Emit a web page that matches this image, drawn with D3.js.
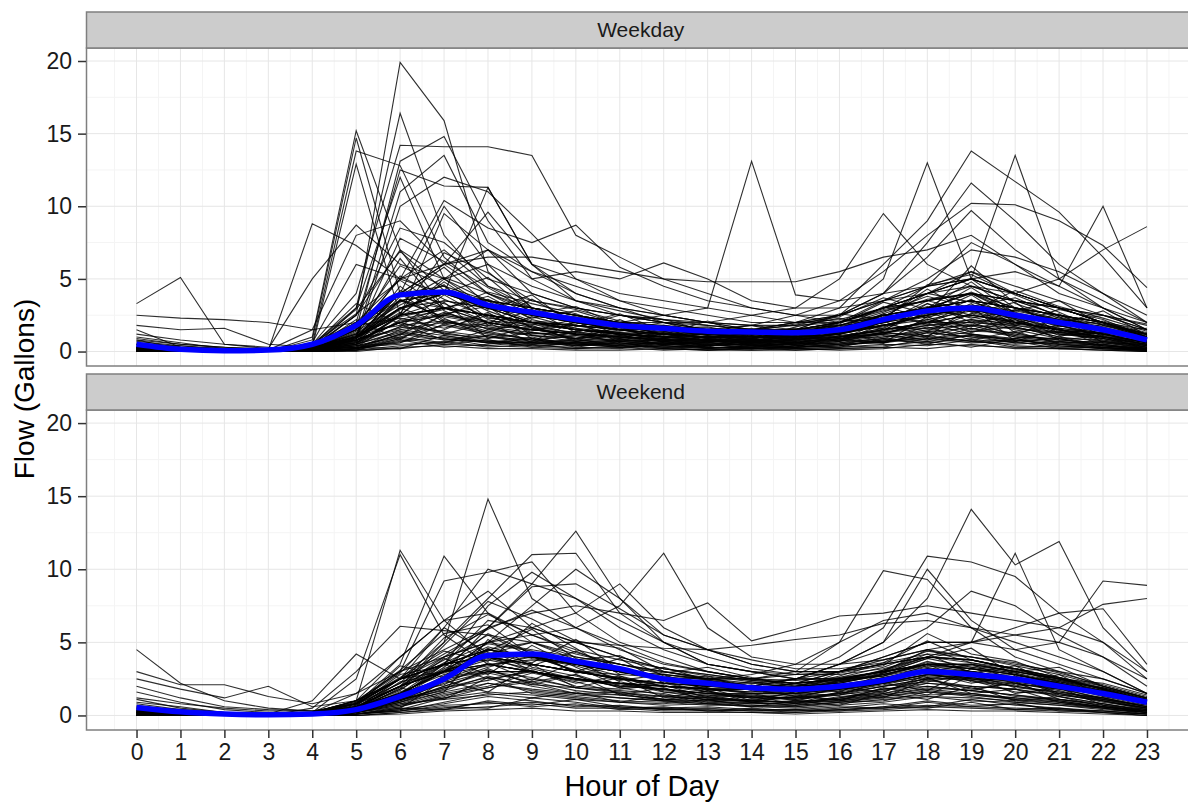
<!DOCTYPE html>
<html><head><meta charset="utf-8">
<script src="https://cdn.jsdelivr.net/npm/d3@7"></script>
<style>body{margin:0;background:#fff}svg{display:block}text{font-family:"Liberation Sans",Arial,sans-serif}</style>
</head><body><svg id="c" width="1188" height="802"></svg>
<script>
const hours = d3.range(0, 24);
const xTicks = d3.range(0, 24);
const yTicks = [0, 5, 10, 15, 20];
const panelNames = ["Weekday", "Weekend"];

const weekdayMean = [0.5,0.15,0.05,0.1,0.5,1.8,3.9,4.1,3.2,2.7,2.2,1.8,1.6,1.4,1.35,1.3,1.5,2.2,2.8,3.0,2.5,2.0,1.5,0.8];
const weekendMean = [0.55,0.25,0.1,0.05,0.1,0.4,1.3,2.5,4.1,4.2,3.7,3.2,2.5,2.2,1.9,1.8,2.0,2.4,3.0,2.8,2.5,2.0,1.5,0.9];

const weekdayLines = [
[0.2,0.1,0,0,0.3,2.5,19.9,15.9,5.5,3.0,2.0,1.5,1.2,1.0,0.8,0.9,1.5,2.5,3.0,2.8,2.0,1.5,1.0,0.5],
[0.1,0,0,0,0.2,3.0,16.4,8.0,4.5,3.0,2.5,1.8,1.2,0.9,1.0,1.2,1.8,2.0,3.5,4.0,2.5,1.5,0.9,0.3],
[0.5,0.2,0.1,0,0.5,4.0,14.2,14.1,14.1,13.5,8.0,6.5,5.0,4.0,3.0,2.5,2.0,3.0,4.0,5.5,4.0,3.0,2.0,1.0],
[0.3,0.1,0,0,1.0,15.2,7.0,5.0,3.5,2.5,2.0,1.5,1.2,1.0,1.0,1.0,1.5,2.0,3.0,3.5,3.0,2.0,1.5,0.8],
[0.1,0,0,0,0.8,14.7,4.0,10.0,6.0,3.0,2.5,2.0,1.5,1.2,1.0,1.0,1.2,2.5,2.0,3.0,2.5,1.8,1.0,0.5],
[0.2,0.1,0,0,0.5,13.8,12.8,6.5,4.0,2.5,2.0,1.5,1.0,0.8,0.7,0.9,1.5,1.8,2.5,3.0,2.0,1.5,1.2,0.6],
[0.1,0,0,0,0.3,12.9,2.5,3.0,2.5,2.0,1.5,1.2,1.0,0.8,0.6,0.8,1.0,1.5,2.0,2.5,2.0,1.5,1.0,0.4],
[0.2,0.1,0,0.1,8.8,7.3,5.0,4.0,3.0,2.0,1.8,1.5,1.2,1.0,1.0,1.0,1.2,2.0,2.5,3.0,2.5,2.0,1.5,0.8],
[3.3,5.1,0.5,0.2,0.3,2.0,4.0,3.0,2.5,2.0,1.5,1.2,1.0,0.8,0.8,1.0,1.0,1.5,2.0,2.5,2.0,1.5,1.0,0.5],
[0.2,0.1,0,0,0.1,1.5,13.1,14.8,9.0,5.0,3.5,2.5,2.0,1.5,1.2,1.0,1.5,2.0,2.5,3.0,2.5,2.0,1.5,0.8],
[0.1,0,0,0,0.2,2.0,12.5,11.4,11.3,6.0,4.0,3.0,2.0,1.5,1.0,1.0,1.5,2.0,3.0,3.5,3.0,2.0,1.5,1.0],
[0.3,0.1,0,0,0.5,3.0,12.0,5.0,3.0,2.0,1.5,1.2,1.0,0.8,0.7,0.8,1.2,1.8,2.2,2.8,2.5,1.8,1.2,0.6],
[0.2,0.1,0,0,0.2,1.0,11.0,13.5,7.5,5.5,4.0,3.0,2.5,2.0,1.5,1.5,1.8,2.5,3.0,4.0,3.0,2.5,1.8,1.0],
[0.1,0,0,0,0.1,0.8,10.0,12.0,11.0,8.1,5.0,3.5,2.5,2.0,1.8,1.5,2.0,3.0,3.5,4.5,3.5,2.5,1.5,0.8],
[0.5,0.3,0.2,0.1,1.5,8.0,9.0,6.0,4.0,3.0,2.5,2.0,1.5,1.2,1.0,1.0,1.5,2.0,3.0,3.5,3.0,2.5,2.0,1.2],
[0.8,0.5,0.3,0.2,5.0,8.7,6.0,5.0,7.0,4.0,3.0,2.5,2.0,1.5,1.2,1.2,1.5,2.5,3.0,4.0,3.5,2.5,2.0,1.5],
[0.2,0.1,0,0,0.1,1.0,3.0,4.0,11.3,6.0,3.5,3.0,2.5,2.0,1.5,1.5,2.0,3.0,4.0,5.0,4.0,3.0,2.0,1.0],
[0.1,0,0,0,0.2,1.5,5.0,10.4,8.5,7.5,8.7,5.8,4.5,3.5,3.0,2.5,2.5,3.5,4.5,5.5,4.5,3.5,2.5,1.5],
[0.2,0.1,0,0,0.2,1.0,3.0,4.0,3.0,2.5,2.0,2.0,2.5,3.0,13.1,3.9,3.5,4.0,4.5,5.0,4.0,3.0,2.5,1.5],
[0.3,0.2,0.1,0.1,0.5,2.0,5.0,6.0,7.0,5.0,5.5,5.0,6.1,5.0,3.5,3.0,3.0,3.5,4.0,4.5,4.0,3.0,2.0,1.0],
[0.2,0.1,0,0,0.3,1.5,4.0,6.0,6.5,6.5,6.0,5.5,5.0,4.8,4.8,4.8,5.5,6.5,7.0,8.0,6.0,4.0,3.0,2.0],
[0.1,0,0,0,0.2,1.0,3.5,4.0,3.0,2.0,1.5,1.2,1.0,1.0,1.2,1.5,2.5,5.0,13.0,5.0,3.0,2.5,2.0,1.0],
[0.2,0.1,0,0,0.3,1.2,3.0,3.5,3.0,2.5,2.0,1.8,1.5,1.5,1.5,2.0,3.0,6.0,9.0,13.8,11.7,9.6,6.5,3.0],
[0.1,0,0,0,0.2,1.0,2.5,3.0,2.5,2.0,1.5,1.2,1.0,1.0,1.0,1.2,2.0,3.0,4.0,5.0,13.5,5.0,3.0,1.5],
[0.1,0,0,0,0.2,1.0,3.0,4.0,3.5,3.0,2.5,2.0,1.5,1.5,1.5,2.0,2.5,4.0,7.5,11.6,9.0,6.0,4.0,2.0],
[0.2,0.1,0,0,0.3,1.5,4.0,4.5,3.5,3.0,2.5,2.0,2.0,2.0,2.5,3.0,5.0,9.5,6.0,4.5,3.5,3.0,2.0,1.2],
[0.2,0.1,0,0,0.2,1.0,2.5,3.0,2.5,2.0,1.8,1.5,1.5,1.5,1.8,2.5,3.5,5.5,8.0,10.2,10.1,9.0,7.3,4.4],
[0.1,0,0,0,0.2,0.8,2.0,2.5,2.0,1.5,1.2,1.0,1.0,1.0,1.2,1.5,2.0,3.0,4.0,5.0,5.5,4.5,10.0,3.0],
[0.3,0.2,0.1,0.1,0.3,1.0,2.5,3.0,2.5,2.0,1.8,1.5,1.5,1.5,1.5,2.0,2.5,3.5,4.5,5.0,4.0,5.0,7.0,8.6],
[0.2,0.1,0,0,0.2,1.2,3.5,4.0,3.5,3.0,2.5,2.0,1.8,1.5,1.5,1.8,2.5,4.0,6.5,9.7,7.0,5.0,3.5,2.0],
[0.1,0,0,0,0.1,0.8,2.0,3.0,2.5,2.0,1.8,1.5,1.2,1.2,1.2,1.5,2.0,3.0,4.5,7.5,6.0,4.5,3.0,1.5],
[0.2,0.1,0,0,0.2,1.0,2.5,3.5,3.0,2.5,2.0,1.8,1.5,1.2,1.2,1.5,2.0,3.5,5.0,7.0,6.5,5.5,4.0,2.5],
[2.5,2.3,2.2,2.0,1.5,2.0,3.5,3.0,2.0,1.5,1.2,1.0,0.8,0.8,0.8,1.0,1.2,1.8,2.5,3.0,2.5,2.0,1.5,1.2],
[1.8,1.5,1.6,0.5,0.3,1.0,2.0,2.5,2.0,1.5,1.2,1.0,0.8,0.7,0.7,0.8,1.0,1.5,2.0,2.0,1.8,1.5,1.2,0.8],
[1.2,0.8,0.5,0.3,0.2,0.8,1.5,2.0,1.8,1.5,1.2,1.0,0.9,0.8,0.8,0.9,1.0,1.3,1.6,1.8,1.6,1.3,1.0,0.6],
[0.1,0,0,0,0.2,1.0,4.0,6.0,9.6,6.0,5.0,4.0,3.5,3.0,2.5,2.0,2.0,2.5,3.0,3.5,3.0,2.5,2.0,1.0],
[0.3,0.1,0,0,0.3,2.5,8.5,7.5,5.0,4.0,3.0,2.5,2.0,1.8,1.5,1.5,1.8,2.5,3.0,3.5,3.0,2.5,2.0,1.2],
[0.2,0.1,0,0,0.6,6.0,5.0,7.0,4.5,3.5,3.0,2.5,2.2,2.0,1.8,1.8,2.0,2.8,3.5,4.0,3.5,3.0,2.5,1.8],
[0.1,0,0,0,0.1,0.5,2.5,9.5,7.0,5.5,4.5,3.5,3.0,2.5,2.0,2.0,2.2,3.0,3.5,4.0,3.5,3.0,2.0,1.2],
[0.2,0.1,0,0,0.2,2.5,7.0,3.0,2.0,1.5,1.2,1.0,0.8,0.7,0.6,0.7,0.9,1.3,1.8,2.2,1.9,1.5,1.0,0.5],
[0.1,0,0,0,0.1,0.6,2.5,5.0,6.0,4.5,3.5,2.8,2.2,1.8,1.5,1.4,1.6,2.2,2.8,3.2,2.8,2.2,1.6,0.9]
];

const weekdayLowLines = [
[0.3,0,0,0,0.1,0.9,2.7,1.2,2.0,0.6,1.4,0.5,0.9,0.3,1.1,0.4,0.8,2.1,1.0,3.1,0.7,1.6,0.4,0.2],
[0,0,0,0,0,0.4,1.1,3.4,0.9,1.8,0.7,1.2,0.4,0.8,0.3,0.9,1.5,0.6,2.4,1.3,2.2,0.8,1.1,0.1],
[0.8,0.2,0,0,0.2,2.2,0.8,2.6,3.1,1.1,0.9,1.7,0.6,0.5,0.7,0.3,1.1,1.4,3.3,2.0,1.1,2.4,0.6,0.5],
[0.1,0,0,0.1,0.3,0.6,4.5,2.1,1.3,2.4,1.6,0.8,1.3,0.9,0.6,1.2,0.7,1.9,1.4,2.6,3.4,1.2,0.9,0.3],
[0,0,0,0,0,0.2,0.6,1.5,2.7,0.9,0.5,0.4,0.7,0.2,0.4,0.3,0.5,0.9,1.7,0.8,1.4,0.5,0.3,0],
[1.5,0.3,0.1,0,0.1,1.4,3.2,4.6,1.8,2.9,1.3,2.2,1.0,1.4,0.8,1.7,2.3,1.5,2.7,4.4,2.5,1.9,2.8,1.1],
[0.2,0.1,0,0,0.4,3.3,1.9,0.8,1.1,0.7,2.1,0.6,0.5,1.1,0.4,0.6,1.3,2.6,1.9,1.2,0.9,1.4,0.7,0.4],
[0,0,0,0,0.1,0.3,2.2,2.9,4.1,3.3,2.6,1.5,2.0,1.2,1.6,1.0,1.8,2.7,3.8,3.0,2.2,1.3,1.6,0.7],
[0.5,0.4,0.2,0.1,0.2,1.1,5.2,3.6,2.4,1.6,0.9,1.3,0.8,0.6,0.9,0.5,0.9,1.2,2.2,1.7,2.9,2.1,1.2,0.6],
[0,0,0,0,0,0.5,1.4,0.9,0.6,1.0,0.4,0.6,0.3,0.5,0.2,0.4,0.6,1.1,0.8,1.6,1.0,0.7,0.5,0.1],
[0.3,0.1,0,0,0.2,0.7,3.8,5.8,3.2,2.1,1.9,2.6,1.4,1.1,1.3,0.8,1.5,3.1,2.3,3.6,1.8,2.6,1.0,0.8],
[0.2,0,0,0,0.3,1.8,2.3,1.6,2.5,1.3,1.1,0.9,1.6,0.7,0.9,1.3,1.0,1.6,2.9,2.4,1.7,1.0,1.9,0.9],
[1.0,0.6,0.2,0,0.1,0.9,2.9,4.0,5.1,2.6,3.1,1.8,1.2,2.1,1.0,1.5,2.6,2.2,4.6,5.3,3.9,2.7,1.4,1.6],
[0.1,0,0,0,0.2,1.2,6.4,2.8,1.5,1.9,1.2,1.0,0.8,0.6,1.2,0.7,1.4,1.8,2.5,3.9,2.0,1.5,0.8,0.3],
[0,0,0,0,0,0.1,0.9,2.2,1.4,0.8,1.1,0.7,0.9,0.4,0.6,0.5,0.7,1.3,1.1,2.1,1.5,0.9,0.4,0.2],
[0.4,0.2,0,0,0.5,2.6,4.9,3.0,3.8,2.2,1.5,1.4,1.8,1.3,0.8,1.0,2.0,2.9,3.5,2.8,4.2,3.1,2.3,1.4],
[0.2,0.1,0,0,0.1,0.5,1.7,3.9,2.2,1.4,2.3,1.1,0.7,0.9,0.5,0.8,1.1,1.4,2.0,3.3,1.3,1.8,1.1,0.6],
[0.6,0.3,0.1,0,0.3,1.6,3.5,2.4,1.9,3.6,2.0,1.6,1.1,1.5,1.3,1.6,1.2,2.4,4.0,3.4,2.6,2.0,2.5,1.9],
[0,0,0,0,0.1,0.8,2.0,1.3,0.8,0.5,0.7,0.4,0.6,0.3,0.3,0.5,0.8,0.6,1.3,1.0,0.9,0.6,0.4,0.1],
[0.3,0.1,0,0,0.2,1.0,7.8,6.2,4.4,2.7,2.4,2.0,1.6,1.7,1.1,1.3,1.9,3.4,2.6,5.9,3.3,2.3,1.7,0.9],
[0.1,0,0,0,0.1,0.4,2.5,4.8,2.9,3.9,1.7,2.5,2.2,1.4,1.8,1.1,2.1,2.2,3.1,2.3,2.8,3.5,1.8,1.2],
[0.7,0.4,0.1,0,0.2,1.3,1.8,2.1,1.6,1.2,1.4,0.9,0.7,1.0,0.8,0.6,1.0,1.6,1.6,2.2,1.6,1.2,0.9,0.5],
[0,0,0,0,0.1,0.7,3.0,1.9,2.6,1.7,0.8,1.5,1.0,0.8,1.4,0.9,1.2,2.0,2.8,1.5,2.3,1.1,1.3,0.4],
[0.2,0.1,0,0,0.1,0.9,4.2,3.3,2.0,1.5,1.8,1.2,0.9,1.3,0.7,1.1,1.6,2.5,3.0,4.8,2.6,1.7,2.1,1.3],
[0,0,0,0,0,0.2,1.0,1.8,1.2,0.9,0.6,0.8,0.5,0.4,0.5,0.3,0.4,0.8,1.4,1.2,0.7,0.9,0.3,0.1],
[0.4,0.2,0,0,0.4,2.9,6.9,4.2,2.8,1.7,1.3,1.1,1.4,0.9,1.1,0.8,1.3,1.7,2.6,3.1,3.7,2.4,1.5,0.7],
[0.1,0,0,0,0.1,0.6,2.4,3.0,3.6,2.3,2.8,1.9,1.5,1.1,0.9,1.4,1.7,2.3,4.3,2.7,1.9,2.9,2.2,1.0],
[0.9,0.5,0.3,0.1,0.2,0.8,1.6,2.7,1.7,1.3,1.0,0.8,1.2,0.7,0.6,0.9,0.8,1.3,1.8,2.0,2.4,1.4,1.0,0.7],
[0,0,0,0,0.1,0.5,3.6,2.3,1.0,0.8,0.6,0.7,0.5,0.6,0.4,0.6,0.9,1.0,1.5,1.9,1.2,0.8,0.6,0.2],
[0.2,0.1,0,0,0.2,1.1,2.6,6.8,5.4,3.5,2.9,2.1,1.7,1.6,1.4,1.9,2.4,3.7,2.9,4.1,3.0,2.2,1.9,1.1],
[0.1,0,0,0,0.1,0.3,1.2,2.5,3.5,1.6,1.2,1.0,0.9,0.7,0.8,0.6,1.0,1.2,2.1,1.4,1.7,1.0,0.7,0.3],
[0.5,0.2,0.1,0,0.3,1.7,5.9,4.5,2.3,2.0,1.6,1.3,1.0,1.2,0.9,1.0,1.4,2.0,3.3,2.5,2.1,1.6,1.3,0.8],
[0,0,0,0,0,0.2,1.5,1.1,0.7,0.6,0.5,0.3,0.4,0.3,0.2,0.3,0.5,0.7,0.9,1.1,0.8,0.5,0.3,0.1],
[0.3,0.1,0,0,0.2,0.9,3.4,5.1,4.0,2.8,2.0,1.7,1.3,1.0,1.2,1.1,1.5,2.6,3.6,4.0,2.7,2.0,1.5,0.9],
[0.1,0,0,0,0.2,1.0,4.0,2.0,1.6,1.1,0.9,1.1,0.7,0.5,0.6,0.7,0.9,1.5,1.9,2.6,1.8,1.3,0.9,0.4],
[0.2,0.1,0,0,0.1,0.6,2.1,2.6,2.1,1.9,1.5,1.3,1.2,1.0,0.9,1.2,1.3,1.8,2.4,2.9,2.3,1.6,1.2,0.6]
];

const weekdayNearZeroLines = [
[0,0,0,0,0,0.1,0.4,0.7,0.3,0.5,0.2,0.3,0.1,0.2,0.1,0.2,0.3,0.5,0.4,0.8,0.3,0.4,0.2,0],
[0.1,0,0,0,0,0.2,0.9,0.5,0.8,0.3,0.6,0.4,0.3,0.1,0.3,0.1,0.2,0.3,0.9,0.6,0.7,0.2,0.3,0.1],
[0,0,0,0,0.1,0.3,0.2,1.1,0.6,0.4,0.3,0.2,0.5,0.3,0.2,0.4,0.6,0.9,0.5,1.2,0.8,0.5,0.2,0.1],
[0.2,0.1,0,0,0,0.5,1.3,0.9,0.4,0.7,0.5,0.6,0.2,0.4,0.5,0.3,0.4,0.7,1.1,0.7,0.5,0.7,0.4,0.2],
[0,0,0,0,0,0,0.3,0.4,0.2,0.2,0.1,0.1,0.2,0.1,0.1,0.1,0.2,0.3,0.2,0.5,0.2,0.2,0.1,0],
[0.1,0,0,0,0.1,0.6,1.7,1.4,1.0,0.6,0.8,0.5,0.7,0.5,0.3,0.6,0.5,1.0,1.4,1.6,1.1,0.8,0.6,0.3],
[0,0,0,0,0,0.1,0.8,0.3,0.5,0.9,0.3,0.7,0.4,0.2,0.4,0.2,0.3,0.4,0.7,0.3,0.9,0.3,0.5,0.1],
[0.3,0.1,0,0,0,0.4,0.6,1.9,1.3,0.8,0.4,0.8,0.6,0.6,0.4,0.5,0.9,0.6,1.3,1.0,0.6,1.0,0.4,0.2],
[0,0,0,0,0,0.2,1.2,0.8,0.7,0.4,0.6,0.3,0.4,0.3,0.2,0.3,0.4,0.8,0.6,0.9,0.4,0.3,0.3,0.1],
[0.1,0,0,0,0.1,0.3,0.5,0.6,1.5,1.1,0.7,0.9,0.5,0.7,0.6,0.4,0.7,1.2,0.8,1.4,1.3,0.6,0.7,0.2],
[0,0,0,0,0,0.1,0.2,0.5,0.4,0.3,0.2,0.4,0.2,0.1,0.2,0.2,0.1,0.2,0.5,0.4,0.3,0.2,0.1,0],
[0.2,0,0,0,0.1,0.8,2.0,1.2,0.9,1.3,0.9,0.7,0.8,0.4,0.7,0.6,0.8,1.3,1.0,1.8,1.0,0.9,0.8,0.4],
[0,0,0,0,0,0.2,0.7,1.0,0.6,0.6,0.4,0.5,0.3,0.3,0.3,0.3,0.5,0.6,1.0,0.7,0.8,0.4,0.2,0.1],
[0.1,0,0,0,0,0.4,1.0,0.6,1.1,0.5,0.9,0.3,0.6,0.4,0.5,0.5,0.3,0.9,0.7,1.1,0.6,0.5,0.5,0.2]
];

const weekendLines = [
[4.5,2.2,1.0,0.5,0.3,0.8,2.0,3.0,4.0,3.5,3.0,2.5,2.0,1.8,1.5,1.5,1.8,2.2,2.8,2.5,2.2,1.8,1.2,0.6],
[2.5,1.8,1.2,2.0,0.6,1.0,2.5,3.5,4.5,4.0,3.5,3.0,2.5,2.0,1.8,1.8,2.0,2.5,3.0,3.0,2.5,2.0,1.5,0.9],
[3.0,2.1,2.1,1.3,0.8,1.5,3.0,4.0,5.0,4.5,4.0,3.5,3.0,2.5,2.2,2.0,2.2,2.8,3.5,3.2,2.8,2.2,1.6,1.0],
[0.2,0.1,0,0,0.1,1.0,11.3,6.5,4.0,3.0,2.5,2.0,1.8,1.5,1.2,1.2,1.5,2.0,2.5,2.5,2.0,1.5,1.2,0.6],
[0.3,0.1,0,0,0.2,2.5,11.0,5.5,3.5,3.0,2.5,2.0,1.8,1.5,1.5,1.5,1.8,2.2,2.8,3.0,2.5,2.0,1.5,0.8],
[0.3,0.2,0.1,0,0.5,3.0,6.1,5.8,5.5,4.0,3.5,3.0,2.5,2.0,1.8,1.7,2.0,2.5,3.0,3.0,2.5,2.0,1.5,0.8],
[0.5,0.3,0.2,0.1,1.0,4.2,2.5,3.0,3.5,3.0,2.5,2.2,2.0,1.8,1.6,1.6,1.8,2.2,2.8,2.8,2.5,2.0,1.5,0.9],
[0.2,0.1,0,0,0.1,0.8,3.5,10.9,7.0,5.0,4.0,3.5,3.0,2.5,2.0,2.0,2.2,2.8,3.5,3.2,2.8,2.2,1.6,1.0],
[0.1,0,0,0,0.1,0.5,2.0,5.0,14.8,8.0,6.0,4.5,3.5,3.0,2.5,2.2,2.5,3.0,3.5,3.2,2.8,2.2,1.6,0.9],
[0.2,0.1,0,0,0.2,1.0,3.0,9.2,9.8,10.5,7.0,5.0,4.0,3.0,2.5,2.2,2.5,3.0,3.5,3.5,3.0,2.5,1.8,1.0],
[0.1,0,0,0,0.1,0.5,1.5,3.0,6.0,9.0,12.6,8.0,5.0,3.5,3.0,2.5,2.5,3.0,3.5,3.5,3.0,2.5,1.8,1.0],
[0.2,0.1,0,0,0.1,0.8,2.5,5.0,8.0,11.0,11.1,7.0,5.0,3.5,3.0,2.8,2.8,3.2,4.0,3.8,3.2,2.5,1.8,1.0],
[0.3,0.1,0,0,0.2,1.0,2.5,4.0,5.0,5.5,6.0,7.5,11.1,6.0,4.0,3.5,3.5,3.8,4.5,4.0,3.5,3.0,2.0,1.2],
[0.2,0.1,0,0,0.2,1.0,3.0,4.5,6.0,7.0,7.5,7.0,6.5,7.7,5.1,5.9,6.8,7.0,7.5,7.0,6.5,6.0,5.0,3.0],
[0.1,0,0,0,0.1,0.5,2.5,6.0,10.0,9.0,8.0,6.0,4.5,3.5,3.0,2.5,2.5,3.0,3.5,3.5,3.0,2.5,1.8,1.0],
[0.2,0.1,0,0,0.2,1.0,4.0,6.5,8.5,6.0,5.0,4.0,3.2,2.8,2.4,2.2,2.4,2.8,3.4,3.2,2.8,2.2,1.6,0.9],
[0.2,0.1,0,0,0.1,0.6,2.0,3.5,4.5,4.0,3.5,3.0,2.8,2.5,2.5,3.0,5.0,9.9,9.3,6.0,4.0,3.0,2.5,1.5],
[0.2,0.1,0,0,0.2,0.8,2.5,3.5,4.0,4.0,3.5,3.0,2.8,2.5,2.5,2.8,4.0,6.0,10.9,10.5,9.5,7.0,5.0,2.5],
[0.1,0,0,0,0.1,0.6,2.0,3.0,4.0,3.5,3.0,2.5,2.2,2.0,2.0,2.5,3.5,5.0,10.0,6.5,4.5,3.5,2.5,1.5],
[0.2,0.1,0,0,0.2,0.8,2.5,3.5,4.0,3.5,3.0,2.5,2.2,2.0,2.0,2.5,3.5,5.0,8.0,14.1,10.3,11.9,6.0,3.0],
[0.1,0,0,0,0.1,0.5,2.0,3.0,3.5,3.0,2.5,2.2,2.0,1.8,1.8,2.2,3.0,4.0,5.0,5.0,11.1,4.5,3.0,1.5],
[0.3,0.1,0,0,0.2,0.8,2.5,3.5,4.0,3.5,3.0,2.5,2.2,2.0,2.0,2.5,3.0,4.0,5.0,5.0,4.5,5.0,9.2,8.9],
[0.2,0.1,0,0,0.1,0.6,2.0,3.0,3.5,3.0,2.5,2.2,2.0,1.8,1.8,2.2,3.0,3.8,4.5,5.0,5.5,6.0,7.6,8.0],
[0.2,0.1,0,0,0.2,0.8,2.5,3.5,4.5,4.0,3.5,3.0,2.5,2.2,2.2,2.5,3.5,4.5,6.0,8.5,7.5,5.5,4.0,2.0],
[0.1,0,0,0,0.1,0.5,1.5,3.5,7.5,9.8,8.0,6.5,5.0,4.0,3.2,2.8,3.0,3.5,4.0,3.8,3.2,2.6,1.8,1.0],
[0.2,0.1,0,0,0.1,0.6,2.0,4.0,6.0,8.8,9.0,7.3,5.5,4.5,3.5,3.0,3.0,3.5,4.0,3.8,3.2,2.6,2.0,1.2],
[0.2,0.1,0,0,0.2,0.8,2.5,3.5,4.0,3.5,3.0,2.8,2.6,2.5,2.8,3.5,5.0,6.5,7.0,6.0,5.0,4.0,3.0,1.5],
[0.1,0,0,0,0.1,0.5,1.5,2.5,3.0,3.0,2.5,2.2,2.0,1.8,1.8,2.0,2.5,3.0,4.0,5.0,6.0,7.0,7.3,3.5],
[0.3,0.2,0.1,0,0.1,0.5,1.8,3.5,6.5,6.0,5.0,4.0,3.2,2.7,2.3,2.1,2.3,2.8,3.5,3.3,2.9,2.3,1.7,1.0],
[0.2,0.1,0,0,0.1,0.5,1.5,3.0,5.0,6.0,7.0,9.0,6.0,4.5,3.5,3.0,3.0,3.5,4.0,3.8,3.2,2.6,1.9,1.1],
[0.2,0.1,0,0,0.1,0.4,1.5,3.0,5.0,7.5,10.0,8.0,5.5,4.5,3.8,3.2,3.2,3.6,4.2,4.0,3.4,2.8,2.0,1.2],
[0.3,0.2,0.1,0,0.1,0.5,1.5,3.0,4.5,5.0,5.0,4.8,4.6,4.5,4.8,5.2,5.5,6.3,6.5,6.0,5.5,5.0,4.0,2.5],
[0.3,0.1,0,0,0.2,1.5,4.0,6.5,7.0,5.5,4.5,3.8,3.2,2.8,2.4,2.2,2.4,2.9,3.6,3.4,3.0,2.4,1.7,1.0]
];

const weekendLowLines = [
[0.4,0.1,0,0,0,0.2,0.9,1.8,3.2,2.1,2.8,1.4,1.9,1.0,1.3,0.8,1.6,1.2,2.5,1.8,2.2,1.3,0.8,0.3],
[0,0,0,0,0,0.1,0.5,2.4,1.6,3.5,1.9,2.6,1.2,1.7,0.9,1.4,1.0,1.9,1.4,2.7,1.5,1.9,0.7,0.2],
[1.1,0.5,0.2,0.1,0.1,0.6,1.4,3.3,5.6,4.2,3.0,3.9,2.2,1.6,2.1,1.5,2.4,3.1,4.2,2.9,3.4,2.0,1.5,0.8],
[0.2,0.1,0,0,0.1,0.3,1.9,1.1,2.6,1.5,1.2,0.9,1.4,0.8,0.6,1.0,0.7,1.5,1.1,2.0,1.0,1.3,0.6,0.3],
[0,0,0,0,0,0.2,0.7,1.5,2.0,2.9,2.3,1.5,1.0,1.3,0.9,0.7,1.2,1.6,2.6,1.5,1.8,0.9,0.5,0.1],
[0.6,0.3,0.1,0,0.2,0.9,2.6,4.4,3.7,6.3,4.6,2.8,3.3,2.4,1.8,2.2,1.6,2.9,3.9,4.6,2.7,2.4,1.9,1.2],
[0.1,0,0,0,0.1,0.4,1.2,2.7,4.6,3.0,2.2,2.7,1.6,1.2,1.4,1.1,1.5,2.2,1.7,3.2,2.6,1.4,1.1,0.6],
[0.3,0.2,0,0,0,0.5,1.7,3.9,2.8,4.8,3.3,2.0,2.6,1.9,1.0,1.6,2.3,2.7,3.5,2.3,2.0,2.8,1.3,0.9],
[0,0,0,0,0,0.1,0.3,0.9,1.5,1.2,1.6,0.9,0.8,1.1,0.6,0.7,0.9,1.0,1.6,1.3,0.9,0.7,0.5,0.2],
[0.8,0.4,0.1,0,0.1,0.7,2.2,5.3,6.9,5.5,4.3,3.5,2.9,3.3,2.6,2.0,2.7,3.6,5.1,3.8,3.1,2.5,2.2,1.4],
[0.2,0.1,0,0,0.1,0.4,1.5,2.1,3.6,2.4,3.7,2.3,1.7,1.5,1.3,1.2,1.9,1.6,2.8,2.4,1.6,1.5,0.9,0.5],
[0,0,0,0,0,0.2,1.0,1.9,2.4,3.1,2.0,1.8,2.1,1.2,1.0,0.9,1.2,1.8,2.0,1.7,2.3,1.1,0.8,0.3],
[1.6,0.9,0.4,0.2,0.1,0.5,1.3,3.0,4.2,5.0,3.8,4.1,2.7,2.2,1.9,1.7,2.1,2.5,3.4,3.0,2.6,2.3,1.6,1.1],
[0.3,0.1,0,0,0.1,0.6,3.4,2.6,3.1,2.2,1.5,1.6,1.1,1.4,0.9,1.3,1.5,2.0,2.3,2.8,1.9,1.6,1.2,0.6],
[0,0,0,0,0,0.2,0.8,1.6,5.2,3.3,2.7,1.9,2.3,1.6,1.2,1.1,1.4,2.4,2.9,2.2,2.7,1.5,1.0,0.4],
[0.5,0.2,0.1,0,0.1,0.9,2.9,6.0,4.3,3.6,5.2,3.1,2.4,2.0,2.3,1.8,2.6,3.0,4.5,3.6,3.0,3.3,2.0,1.2],
[0.1,0,0,0,0,0.3,1.1,2.2,3.0,2.6,1.9,1.7,1.5,0.9,1.1,0.8,1.3,1.5,2.2,1.9,1.3,1.1,0.7,0.3],
[0.2,0.1,0,0,0.1,0.5,1.8,4.8,7.8,6.6,5.1,4.6,3.0,2.6,2.0,1.9,2.9,3.4,5.6,4.2,3.7,2.6,1.8,1.0],
[0,0,0,0,0,0.1,0.6,1.3,2.2,1.7,1.4,1.2,1.0,0.8,0.7,0.6,0.9,1.2,1.4,1.5,1.1,0.8,0.6,0.2],
[0.9,0.6,0.2,0.1,0.1,0.6,2.0,3.6,4.9,4.4,2.9,3.3,2.5,1.8,1.6,2.0,2.2,2.9,3.9,3.3,2.9,2.1,1.7,1.0],
[0.1,0,0,0,0.1,0.4,2.3,2.9,3.8,3.2,2.5,2.1,1.8,1.3,1.5,1.0,1.6,2.1,2.7,2.6,2.1,1.9,1.1,0.7],
[0.3,0.1,0,0,0,0.3,1.4,3.2,4.4,5.9,3.9,3.0,2.4,2.7,1.7,1.5,1.9,2.6,3.0,3.5,2.4,1.8,1.5,0.8],
[0,0,0,0,0,0.2,0.9,2.0,2.9,2.3,2.8,1.9,1.4,1.2,1.0,1.3,1.1,1.7,2.4,2.0,1.8,1.3,0.8,0.4],
[0.4,0.2,0.1,0,0.1,0.8,3.1,5.6,6.2,4.1,3.5,2.7,2.0,1.9,1.5,1.7,2.3,3.1,4.0,3.6,3.2,2.3,1.9,1.1],
[0.2,0.1,0,0,0,0.4,1.6,2.8,3.4,4.0,3.1,2.4,2.8,1.7,1.8,1.3,1.8,2.3,3.2,2.5,2.4,2.0,1.3,0.7],
[0,0,0,0,0,0.1,0.4,1.2,1.9,2.5,1.9,1.6,1.3,1.1,0.9,1.0,1.1,1.4,1.9,1.7,1.4,1.0,0.6,0.2],
[0.7,0.3,0.1,0,0.1,0.5,2.5,4.2,5.9,7.2,6.0,4.8,3.6,3.0,2.5,2.4,2.6,3.3,4.4,4.0,3.6,2.9,2.1,1.3],
[0.1,0,0,0,0.1,0.3,1.3,3.5,2.5,3.0,2.4,2.2,1.6,1.4,1.2,1.5,1.4,2.0,2.5,2.9,2.2,1.7,1.0,0.5],
[0.3,0.1,0,0,0.1,0.7,2.8,3.4,4.7,3.9,3.4,2.5,2.2,2.4,2.0,1.8,2.4,2.7,3.7,3.0,2.5,2.2,1.6,0.9],
[0,0,0,0,0,0.2,1.1,1.7,2.7,2.0,1.5,1.4,1.1,0.9,0.8,0.8,1.0,1.3,1.7,1.4,1.2,0.9,0.6,0.3],
[0.5,0.2,0.1,0,0.1,0.6,2.0,3.1,3.9,3.4,4.4,3.2,2.6,2.1,1.9,2.2,2.5,2.7,3.3,2.7,2.8,2.1,1.5,0.8],
[0.2,0.1,0,0,0,0.3,1.0,2.3,3.3,4.1,3.0,2.6,2.0,1.6,1.4,1.4,1.7,2.2,2.6,2.4,2.0,1.6,1.1,0.5],
[0.6,0.4,0.2,0.1,0.1,0.3,1.0,2.0,3.0,3.0,2.5,2.2,1.8,1.5,1.3,1.2,1.4,1.8,2.2,2.0,1.8,1.4,1.0,0.5],
[1.2,0.8,0.5,0.3,0.3,0.6,1.5,2.5,3.5,3.8,3.5,3.0,2.5,2.0,1.8,1.7,1.9,2.3,2.8,2.6,2.3,1.9,1.4,0.8],
[2.0,1.2,0.6,0.4,0.3,0.8,2.2,3.8,5.5,5.0,4.2,3.5,2.8,2.4,2.0,1.9,2.1,2.6,3.2,3.0,2.6,2.1,1.5,0.9]
];

const weekendNearZeroLines = [
[0,0,0,0,0,0,0.2,0.5,0.9,0.6,0.8,0.4,0.5,0.3,0.4,0.2,0.4,0.6,0.5,0.9,0.4,0.5,0.2,0],
[0.1,0,0,0,0,0.1,0.4,0.8,1.3,1.0,0.6,0.7,0.4,0.5,0.3,0.4,0.3,0.6,1.0,0.7,0.8,0.3,0.3,0.1],
[0,0,0,0,0,0.1,0.3,0.6,0.5,1.2,0.9,0.5,0.6,0.3,0.5,0.3,0.5,0.8,0.6,1.1,0.7,0.5,0.3,0.1],
[0.2,0.1,0,0,0,0.2,0.7,1.2,1.6,1.4,1.1,0.9,0.7,0.8,0.6,0.5,0.7,0.9,1.3,1.0,0.9,0.7,0.4,0.2],
[0,0,0,0,0,0,0.1,0.3,0.4,0.5,0.3,0.3,0.2,0.2,0.2,0.1,0.2,0.3,0.4,0.3,0.3,0.2,0.1,0],
[0.1,0,0,0,0,0.3,0.9,1.6,2.2,1.8,1.5,1.2,1.0,0.8,0.9,0.7,0.9,1.3,1.6,1.4,1.1,0.9,0.6,0.3],
[0,0,0,0,0,0.1,0.5,0.4,1.0,0.7,1.1,0.6,0.5,0.6,0.4,0.4,0.6,0.5,0.9,0.6,0.8,0.4,0.3,0.1],
[0.3,0.1,0,0,0,0.2,0.6,1.4,1.9,2.3,1.7,1.4,1.1,1.0,0.8,0.9,1.0,1.4,1.8,1.5,1.2,1.0,0.6,0.3],
[0,0,0,0,0,0.1,0.3,0.7,0.8,0.9,0.7,0.6,0.4,0.4,0.3,0.3,0.4,0.5,0.7,0.6,0.5,0.4,0.2,0.1],
[0.1,0,0,0,0,0.2,0.8,1.1,1.4,1.6,1.3,1.0,0.9,0.7,0.7,0.6,0.8,1.1,1.3,1.2,1.0,0.8,0.5,0.2],
[0,0,0,0,0,0,0.2,0.4,0.6,0.8,0.5,0.5,0.3,0.3,0.2,0.2,0.3,0.4,0.6,0.5,0.4,0.3,0.2,0],
[0.2,0.1,0,0,0,0.3,1.1,1.9,2.6,2.1,1.9,1.5,1.3,1.1,1.0,0.9,1.1,1.5,2.0,1.7,1.4,1.1,0.7,0.4]
];

const svg = d3.select("#c");
const panelLeft = 86, panelRight = 1197.5;
const panels = [
  {name: panelNames[0], lines: weekdayLines.concat(weekdayLowLines, weekdayNearZeroLines), mean: weekdayMean, stripTop: 12, top: 48, bottom: 366},
  {name: panelNames[1], lines: weekendLines.concat(weekendLowLines, weekendNearZeroLines), mean: weekendMean, stripTop: 374, top: 410, bottom: 730}
];

const x = d3.scaleLinear().domain([-1.15, 24.15]).range([panelLeft, panelRight]);
const xMinor = d3.range(-0.5, 24, 1);
const yMinor = [2.5, 7.5, 12.5, 17.5];

panels.forEach((p, i) => {
  const y = d3.scaleLinear().domain([-0.995, 20.895]).range([p.bottom, p.top]);
  const g = svg.append("g");
  g.append("rect").attr("x", panelLeft).attr("y", p.top).attr("width", panelRight - panelLeft).attr("height", p.bottom - p.top).attr("fill", "#fff");
  g.selectAll(".xmin").data(xMinor).join("line")
    .attr("x1", d => x(d)).attr("x2", d => x(d)).attr("y1", p.top).attr("y2", p.bottom)
    .attr("stroke", "#f4f4f4").attr("stroke-width", 1);
  g.selectAll(".ymin").data(yMinor).join("line")
    .attr("x1", panelLeft).attr("x2", panelRight).attr("y1", d => y(d)).attr("y2", d => y(d))
    .attr("stroke", "#f4f4f4").attr("stroke-width", 1);
  g.selectAll(".xmaj").data(xTicks).join("line")
    .attr("x1", d => x(d)).attr("x2", d => x(d)).attr("y1", p.top).attr("y2", p.bottom)
    .attr("stroke", "#e6e6e6").attr("stroke-width", 1);
  g.selectAll(".ymaj").data(yTicks).join("line")
    .attr("x1", panelLeft).attr("x2", panelRight).attr("y1", d => y(d)).attr("y2", d => y(d))
    .attr("stroke", "#e6e6e6").attr("stroke-width", 1);

  const line = d3.line().x((d, j) => x(hours[j])).y(d => y(d));
  g.selectAll(".ser").data(p.lines).join("path")
    .attr("d", line).attr("fill", "none").attr("stroke", "#000")
    .attr("stroke-width", 1.1).attr("stroke-opacity", 0.82);
  g.append("path").datum(p.mean).attr("d", line.curve(d3.curveMonotoneX))
    .attr("fill", "none").attr("stroke", "#0000ff").attr("stroke-width", 5.5).attr("stroke-linejoin", "round");

  g.append("rect").attr("x", panelLeft + 0.5).attr("y", p.top).attr("width", panelRight - panelLeft).attr("height", p.bottom - p.top)
    .attr("fill", "none").attr("stroke", "#7f7f7f").attr("stroke-width", 1.5);
  g.append("rect").attr("x", panelLeft + 0.5).attr("y", p.stripTop).attr("width", panelRight - panelLeft).attr("height", p.top - p.stripTop)
    .attr("fill", "#cccccc").attr("stroke", "#7f7f7f").attr("stroke-width", 1.5);
  g.append("text").attr("x", (panelLeft + panelRight) / 2 - 1).attr("y", (p.stripTop + p.top) / 2 + 7)
    .attr("text-anchor", "middle").attr("font-size", 21).attr("fill", "#1a1a1a").text(p.name);

  const ya = svg.append("g").attr("transform", `translate(${panelLeft},0)`)
    .call(d3.axisLeft(y).tickValues(yTicks).tickSize(8).tickPadding(6).tickFormat(d3.format("d")));
  ya.select(".domain").remove();
  ya.selectAll(".tick line").attr("stroke", "#333").attr("stroke-width", 1.5);
  ya.selectAll(".tick text").attr("font-size", 23).attr("fill", "#1a1a1a").attr("font-family", "Liberation Sans, Arial, sans-serif");

  if (i === 1) {
    const xa = svg.append("g").attr("transform", `translate(0,${p.bottom})`)
      .call(d3.axisBottom(x).tickValues(xTicks).tickSize(8).tickPadding(6).tickFormat(d3.format("d")));
    xa.select(".domain").remove();
    xa.selectAll(".tick line").attr("stroke", "#333").attr("stroke-width", 1.5);
    xa.selectAll(".tick text").attr("font-size", 23).attr("fill", "#1a1a1a").attr("font-family", "Liberation Sans, Arial, sans-serif");
  }
});

svg.append("text").attr("x", (panelLeft + panelRight) / 2).attr("y", 796)
  .attr("text-anchor", "middle").attr("font-size", 29).attr("fill", "#000").text("Hour of Day");
svg.append("text").attr("transform", `translate(34,389) rotate(-90)`)
  .attr("text-anchor", "middle").attr("font-size", 28).attr("fill", "#000").text("Flow (Gallons)");
</script></body></html>
